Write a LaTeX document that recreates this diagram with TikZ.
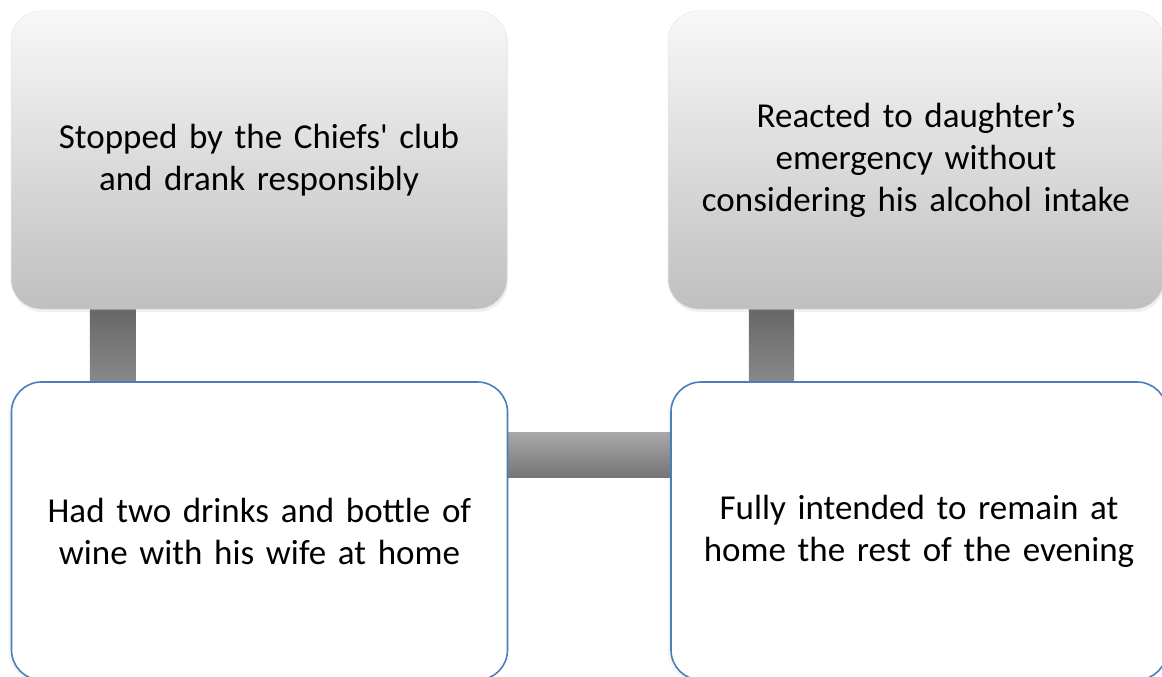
\documentclass[tikz,border=0pt]{standalone}
\usepackage{fontspec}
\setmainfont{Carlito}[Ligatures=TeXOff]
\usetikzlibrary{calc,shadows,backgrounds}

\definecolor{boxedge}{HTML}{4A7EBB}
\definecolor{boxtop}{HTML}{F8F8F8}
\definecolor{boxbottom}{HTML}{BFBFBF}

\begin{document}
\begin{tikzpicture}[x=1pt,y=1pt]
    \pgfmathsetmacro{\w}{496}	%width
    \pgfmathsetmacro{\h}{298}	%height
    \tikzset{
        event/.style={rounded corners=30pt, minimum width=\w pt, minimum height=\h pt,
            inner sep=0pt, text width=450pt, align=center, font=\fontsize{35}{42}\selectfont},
        cause/.style={event, top color=boxtop, bottom color=boxbottom, draw=gray!20, line width=0.5pt,
            drop shadow={opacity=0.12, shadow xshift=1pt, shadow yshift=-3pt}},
        act/.style={event, fill=white, draw=boxedge, line width=1.6pt,
            drop shadow={opacity=0.08, shadow xshift=-3pt, shadow yshift=-2pt}},
        vbar/.style={top color=black!60, middle color=black!46, bottom color=black!46},
        hbar/.style={top color=black!34, bottom color=black!54}
    };
    \useasboundingbox (0,0) rectangle (1162,-677);
    \clip (0,0) rectangle (1162,-677);

    \node[cause] (tl) at (259,-160) {Stopped by the Chiefs' club\\and drank responsibly};
    \node[cause] (tr) at (916,-160) {Reacted to daughter’s\\emergency without\\considering his alcohol intake};
    \node[act] (bl) at (259.5,-531) {Had two drinks and bottle of\\wine with his wife at home};
    \node[act] (br) at (919,-531) {Fully intended to remain at\\home the rest of the evening};

    \begin{scope}[on background layer]
        \fill[vbar] ($(tl.south west)+(79,2)$) rectangle ($(bl.north west)+(125,-2)$);
        \fill[vbar] ($(tr.south west)+(81,2)$) rectangle ($(br.north west)+(124,-2)$);
        \fill[hbar] ($(bl.north east)+(-2,-51)$) rectangle ($(br.north west)+(2,-96)$);
    \end{scope}
\end{tikzpicture}
\end{document}
